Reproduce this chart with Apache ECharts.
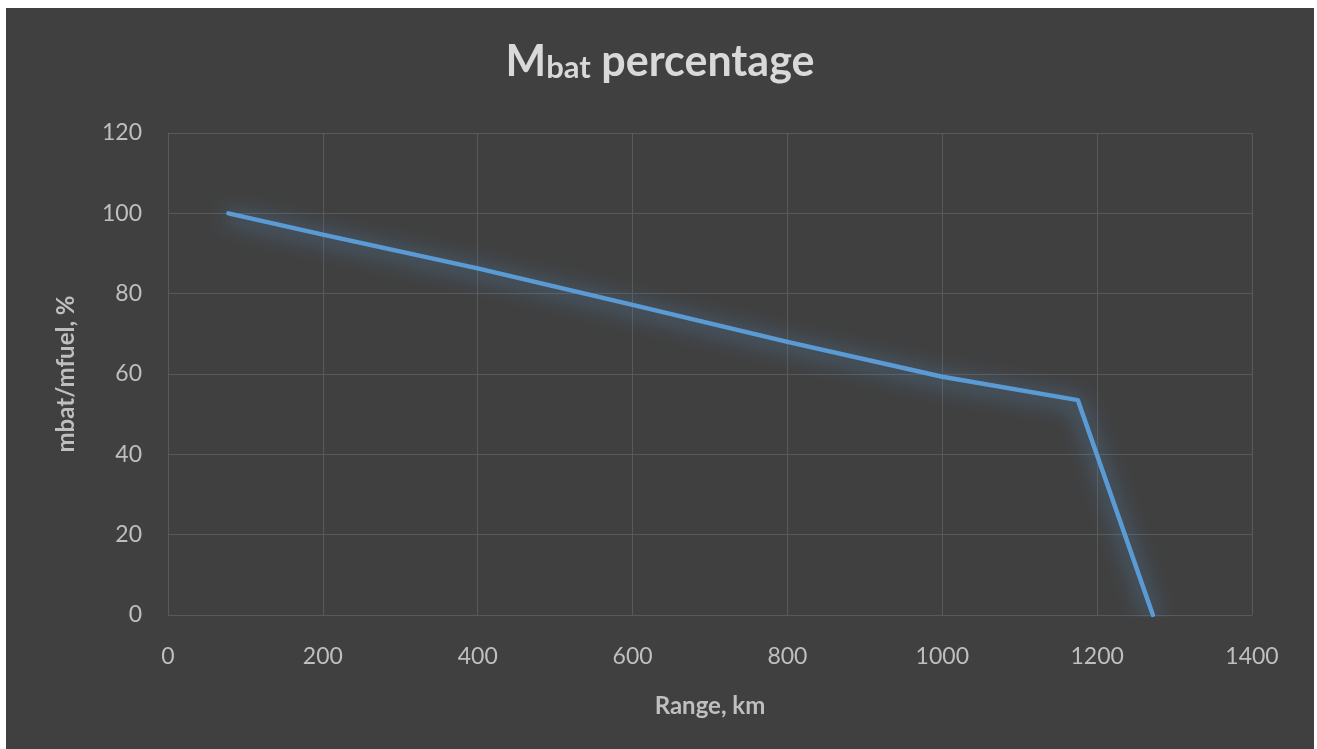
<!DOCTYPE html>
<html>
<head>
<meta charset="utf-8">
<script src="https://cdn.jsdelivr.net/npm/echarts@6/dist/echarts.min.js"></script>
<style>
  html, body { margin: 0; padding: 0; background: #ffffff; }
  #chart { position: absolute; left: 6px; top: 8px; width: 1308px; height: 741px; }
</style>
</head>
<body>
<div id="chart"></div>
<script>
// Range (km) and battery-to-fuel mass ratio (%)
const rangeKm = [78, 200, 400, 600, 800, 1000, 1175, 1272];
const mbatPct = [100, 94.7, 86.3, 77.2, 68.0, 59.3, 53.5, 0];
const xTicks = [0, 200, 400, 600, 800, 1000, 1200, 1400];
const yTicks = [0, 20, 40, 60, 80, 100, 120];

const FONT = 'Lato, "Open Sans", sans-serif';
const chart = echarts.init(document.getElementById('chart'));

chart.setOption({
  backgroundColor: '#404040',
  animation: false,
  title: {
    text: '{big|M}{small|bat}{big| percentage}',
    left: 'center',
    top: 28,
    textStyle: {
      rich: {
        big: { fontFamily: FONT, fontWeight: 'bold', fontSize: 43, color: '#d9d9d9', verticalAlign: 'bottom' },
        small: { fontFamily: FONT, fontWeight: 'bold', fontSize: 31, color: '#d9d9d9', verticalAlign: 'bottom', padding: [0, 0, 1, 0] }
      }
    }
  },
  grid: { left: 162, right: 62, top: 125, bottom: 134, containLabel: false },
  xAxis: {
    type: 'value',
    min: xTicks[0],
    max: xTicks[xTicks.length - 1],
    interval: xTicks[1] - xTicks[0],
    name: 'Range, km',
    nameLocation: 'middle',
    nameGap: 79,
    nameTextStyle: { fontFamily: FONT, fontWeight: 'bold', fontSize: 24, color: '#bfbfbf' },
    axisLine: { show: true, lineStyle: { color: '#595959', width: 1 } },
    axisTick: { show: false },
    axisLabel: { fontFamily: FONT, fontSize: 23, color: '#bfbfbf', margin: 30, formatter: v => String(v) },
    splitLine: { show: true, lineStyle: { color: '#595959', width: 1 } }
  },
  yAxis: {
    type: 'value',
    min: yTicks[0],
    max: yTicks[yTicks.length - 1],
    interval: yTicks[1] - yTicks[0],
    name: 'mbat/mfuel, %',
    nameLocation: 'middle',
    nameGap: 90,
    nameRotate: 90,
    nameTextStyle: { fontFamily: FONT, fontWeight: 'bold', fontSize: 24, color: '#bfbfbf' },
    axisLine: { show: true, lineStyle: { color: '#595959', width: 1 } },
    axisTick: { show: false },
    axisLabel: { fontFamily: FONT, fontSize: 23, color: '#bfbfbf', margin: 26, formatter: v => String(v) },
    splitLine: { show: true, lineStyle: { color: '#595959', width: 1 } }
  },
  series: [{
    type: 'line',
    data: rangeKm.map((x, i) => [x, mbatPct[i]]),
    showSymbol: false,
    symbol: 'none',
    lineStyle: {
      color: '#5b9bd5',
      width: 4.5,
      cap: 'round',
      join: 'round',
      shadowColor: 'rgba(91,155,213,1)',
      shadowBlur: 22,
      shadowOffsetY: 3
    }
  }]
});
</script>
</body>
</html>
